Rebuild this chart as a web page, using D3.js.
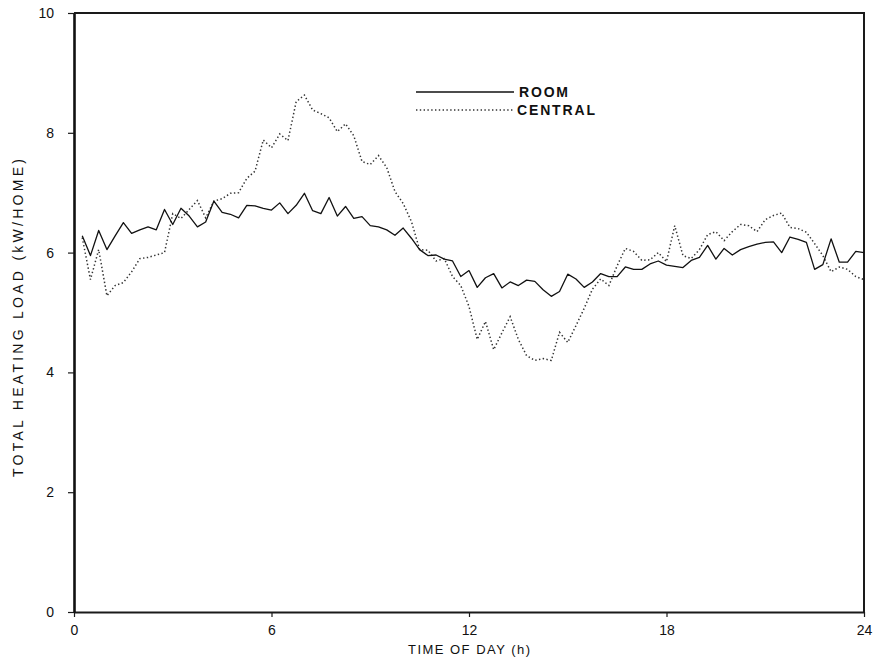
<!DOCTYPE html>
<html>
<head>
<meta charset="utf-8">
<script src="https://cdn.jsdelivr.net/npm/d3@7"></script>
<style>
    html, body { margin: 0; padding: 0; background: #fff; }
    #chart { width: 879px; height: 665px; }
    .axis text { font-family: 'Liberation Sans', Arial, sans-serif; fill: #111; }
    .xaxis text { font-family: 'Liberation Sans Narrow', 'Liberation Sans', Arial, sans-serif; font-size: 14px; }
    .yaxis text { font-size: 14px; }
    .label { font-family: 'Liberation Sans', Arial, sans-serif; fill: #111; }
</style>
</head>
<body>
<div id="chart"></div>
<script>
//Datos: carga media cada 15 minutos (fin de intervalo, en horas)
const FIRST_HOUR = 0.25, STEP_HOUR = 0.25;

const room = [
    6.28, 5.95, 6.37, 6.05, 6.28, 6.50, 6.32, 6.38, 6.43, 6.38, 6.72, 6.47,
    6.74, 6.61, 6.43, 6.51, 6.86, 6.67, 6.64, 6.58, 6.79, 6.78, 6.74, 6.71,
    6.83, 6.65, 6.79, 6.99, 6.70, 6.65, 6.92, 6.61, 6.77, 6.57, 6.60, 6.45,
    6.43, 6.38, 6.29, 6.41, 6.24, 6.05, 5.95, 5.96, 5.89, 5.86, 5.60, 5.70,
    5.42, 5.58, 5.65, 5.41, 5.51, 5.45, 5.54, 5.52, 5.38, 5.27, 5.35, 5.64,
    5.56, 5.42, 5.51, 5.65, 5.60, 5.60, 5.76, 5.72, 5.72, 5.81, 5.86, 5.79,
    5.77, 5.75, 5.87, 5.92, 6.12, 5.89, 6.07, 5.96, 6.05, 6.10, 6.14, 6.17,
    6.18, 6.00, 6.26, 6.22, 6.17, 5.72, 5.80, 6.23, 5.84, 5.84, 6.02, 6.00
];

const central = [
    6.25, 5.55, 6.05, 5.28, 5.45, 5.50, 5.68, 5.90, 5.92, 5.96, 6.00, 6.65,
    6.57, 6.72, 6.87, 6.58, 6.86, 6.90, 6.99, 7.00, 7.24, 7.36, 7.88, 7.75,
    7.98, 7.87, 8.52, 8.63, 8.38, 8.32, 8.25, 8.02, 8.15, 7.95, 7.52, 7.47,
    7.62, 7.42, 7.02, 6.82, 6.52, 6.05, 6.04, 5.86, 5.90, 5.60, 5.45, 5.10,
    4.55, 4.85, 4.38, 4.66, 4.93, 4.55, 4.28, 4.20, 4.23, 4.20, 4.67, 4.50,
    4.78, 5.07, 5.39, 5.56, 5.45, 5.78, 6.07, 6.02, 5.87, 5.88, 6.00, 5.85,
    6.45, 5.95, 5.90, 6.05, 6.30, 6.35, 6.20, 6.35, 6.47, 6.45, 6.35, 6.55,
    6.62, 6.66, 6.42, 6.40, 6.34, 6.15, 5.95, 5.68, 5.76, 5.72, 5.60, 5.55
];

const xTicks = [0, 6, 12, 18, 24];
const yTicks = [0, 2, 4, 6, 8, 10];
const seriesNames = ['ROOM', 'CENTRAL'];

//Desarrollo del gráfico
let margin = {top: 13, right: 15, bottom: 53, left: 74},
    width = 879 - margin.left - margin.right,
    height = 665 - margin.top - margin.bottom;

let svg = d3.select('#chart')
    .append('svg')
        .attr('width', width + margin.left + margin.right)
        .attr('height', height + margin.top + margin.bottom)
    .append('g')
        .attr('transform', 'translate(' + margin.left + ',' + margin.top + ')');

let x = d3.scaleLinear()
    .domain([0, 24])
    .range([0, width]);

let y = d3.scaleLinear()
    .domain([0, 10])
    .range([height, 0]);

//Ejes
svg.append('g')
    .attr('class', 'axis xaxis')
    .attr('transform', 'translate(0,' + height + ')')
    .call(d3.axisBottom(x).tickValues(xTicks).tickSize(5).tickPadding(8).tickSizeOuter(0))
    .call(function(g) {
        g.select('.domain').attr('stroke', '#1a1a1a').attr('stroke-width', 2);
        g.selectAll('.tick line').attr('stroke', '#1a1a1a').attr('stroke-width', 1.2);
    });

svg.append('g')
    .attr('class', 'axis yaxis')
    .call(d3.axisLeft(y).tickValues(yTicks).tickSize(6).tickPadding(14).tickSizeOuter(0))
    .call(function(g) {
        g.select('.domain').attr('stroke', '#111').attr('stroke-width', 2.6);
        g.selectAll('.tick line').attr('stroke', '#1a1a1a').attr('stroke-width', 1.2);
    });

//Marco superior y derecho
svg.append('path')
    .attr('d', d3.line()([[x(0), y(10)], [x(24), y(10)], [x(24), y(0)]]))
    .attr('fill', 'none')
    .attr('stroke', '#1a1a1a')
    .attr('stroke-width', 2);

//Líneas
let line = d3.line()
    .x(function(d, i) { return x(FIRST_HOUR + i * STEP_HOUR); })
    .y(function(d) { return y(d); });

svg.append('path')
    .datum(central)
    .attr('d', line)
    .attr('fill', 'none')
    .attr('stroke', '#333')
    .attr('stroke-width', 1.5)
    .attr('stroke-dasharray', '1.4,2.4');

svg.append('path')
    .datum(room)
    .attr('d', line)
    .attr('fill', 'none')
    .attr('stroke', '#111')
    .attr('stroke-width', 1.3)
    .attr('stroke-linejoin', 'round');

//Leyenda
let legend = svg.append('g')
    .attr('transform', 'translate(' + (416 - margin.left) + ',' + (92 - margin.top) + ')');

legend.selectAll('line')
    .data(seriesNames)
    .enter()
    .append('line')
    .attr('x1', 0)
    .attr('x2', 98)
    .attr('y1', function(d, i) { return i * 18; })
    .attr('y2', function(d, i) { return i * 18; })
    .attr('stroke', function(d, i) { return i == 0 ? '#111' : '#333'; })
    .attr('stroke-width', function(d, i) { return i == 0 ? 1.3 : 1.5; })
    .attr('stroke-dasharray', function(d, i) { return i == 0 ? null : '1.4,2.4'; });

legend.selectAll('text')
    .data(seriesNames)
    .enter()
    .append('text')
    .attr('class', 'label')
    .attr('x', function(d, i) { return i == 0 ? 103 : 101; })
    .attr('y', function(d, i) { return i * 18 + 5; })
    .attr('font-size', 14)
    .attr('font-weight', 'bold')
    .attr('textLength', function(d, i) { return i == 0 ? 49 : 78; })
    .attr('lengthAdjust', 'spacing')
    .text(function(d) { return d; });

//Títulos de ejes
svg.append('text')
    .attr('class', 'label')
    .attr('x', x(12))
    .attr('y', height + 42)
    .attr('text-anchor', 'middle')
    .attr('font-size', 13)
    .attr('textLength', 122)
    .attr('lengthAdjust', 'spacing')
    .text('TIME OF DAY (h)');

svg.append('text')
    .attr('class', 'label')
    .attr('transform', 'translate(' + (23 - margin.left) + ',' + (318 - margin.top) + ') rotate(-90)')
    .attr('text-anchor', 'middle')
    .attr('font-size', 14)
    .attr('textLength', 318)
    .attr('lengthAdjust', 'spacing')
    .text('TOTAL HEATING LOAD (kW/HOME)');
</script>
</body>
</html>
